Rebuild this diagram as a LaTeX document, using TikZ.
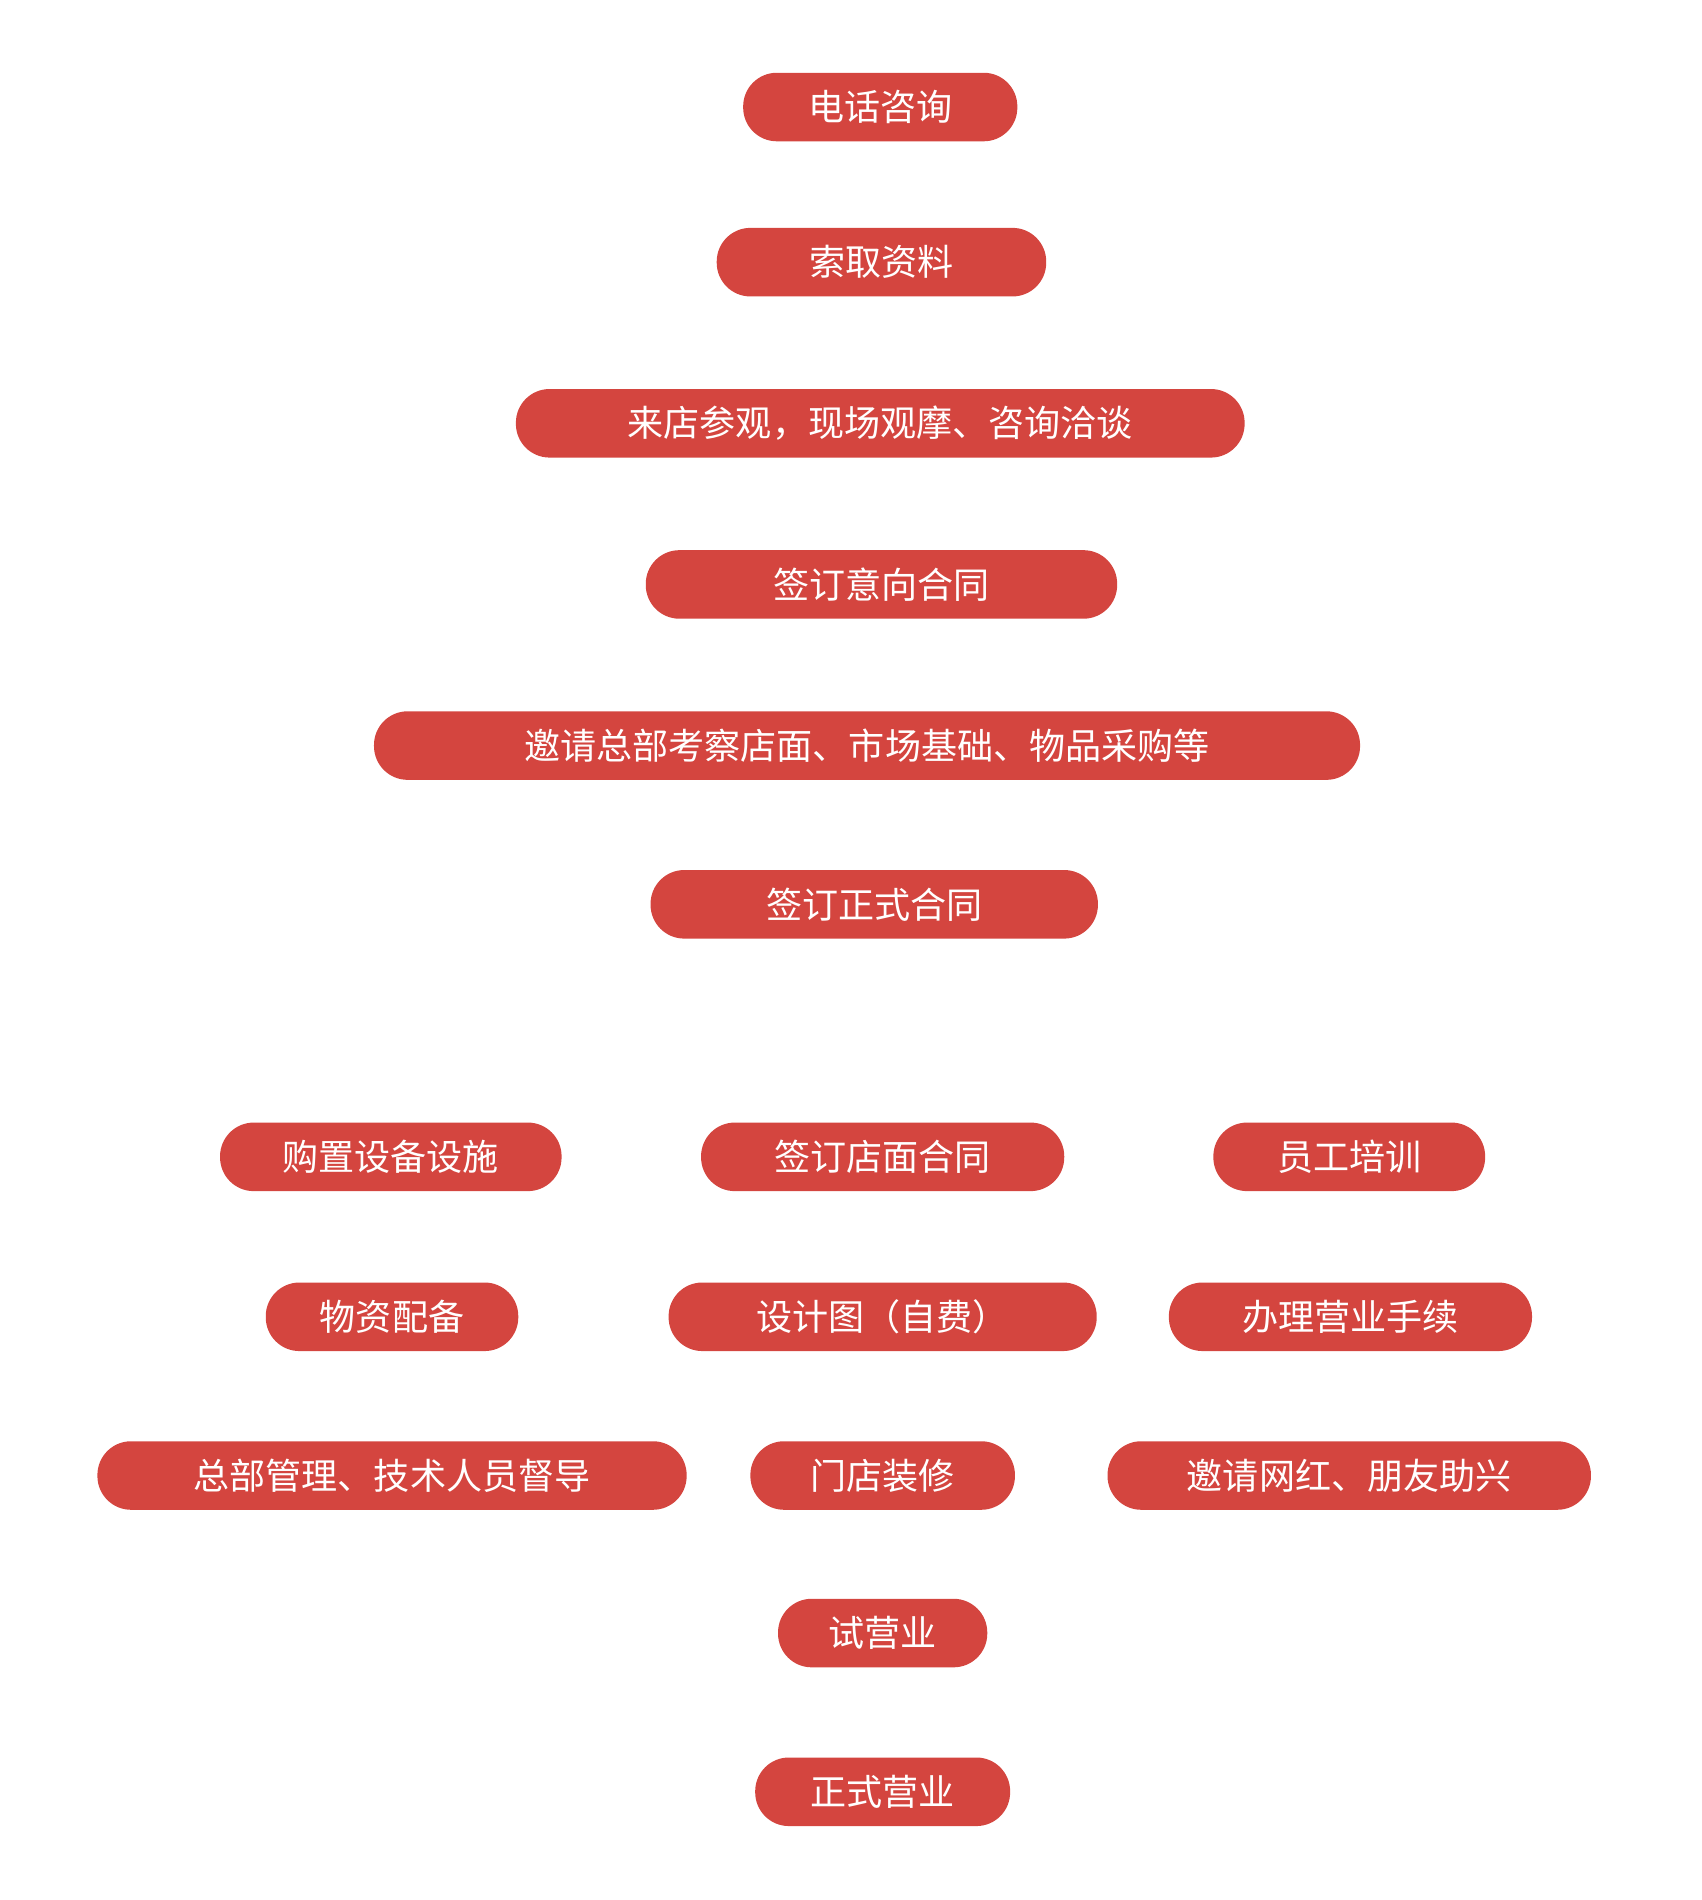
\documentclass[tikz,border=0pt]{standalone}
\usepackage{fontspec}
\newfontfamily\cjk{Noto Sans CJK SC}
\usetikzlibrary{arrows.meta}
\definecolor{rd}{HTML}{D4453F}
\definecolor{br}{HTML}{9C8070}
\tikzset{
 box/.style={fill=rd,rounded corners=14pt,minimum height=28.5pt,inner sep=0pt,text=white,font=\cjk\fontsize{15}{15}\selectfont},
 ln/.style={draw=br,line width=1.6pt},
 ar/.style={ln,-{Triangle[length=9pt,width=9pt]}},
}
\newcommand{\knob}[1]{\fill[br] (#1.north) circle (6.5pt);}
\begin{document}
\begin{tikzpicture}[x=0.5pt,y=-0.5pt]
\useasboundingbox (0,0) rectangle (1415,1580);
% coordinates
\coordinate (p1) at (732,89);
\coordinate (p2) at (733,218);
\coordinate (p3) at (732,352);
\coordinate (p4) at (733,486);
\coordinate (p5) at (721,620);
\coordinate (p6) at (727,752);
\coordinate (bL) at (328,857);
\coordinate (bM) at (732,857);
\coordinate (bR) at (1120,857);
% nodes
\node[box,minimum width=114pt] (n1) at (732,89) {电话咨询};
\node[box,minimum width=137pt] (n2) at (733,218) {索取资料};
\node[box,minimum width=303pt] (n3) at (732,352) {来店参观，现场观摩、咨询洽谈};
\node[box,minimum width=196pt] (n4) at (733,486) {签订意向合同};
\node[box,minimum width=410pt] (n5) at (721,620) {邀请总部考察店面、市场基础、物品采购等};
\node[box,minimum width=186pt] (n6) at (727,752) {签订正式合同};
\node[box,minimum width=142pt] (a1) at (325,962) {购置设备设施};
\node[box,minimum width=151pt] (b1) at (734,962) {签订店面合同};
\node[box,minimum width=113pt] (c1) at (1122,962) {员工培训};
\node[box,minimum width=105pt] (a2) at (326,1095) {物资配备};
\node[box,minimum width=178pt] (b2) at (734,1095) {设计图（自费）};
\node[box,minimum width=151pt] (c2) at (1123,1095) {办理营业手续};
\node[box,minimum width=245pt] (a3) at (326,1227) {总部管理、技术人员督导};
\node[box,minimum width=110pt] (b3) at (734,1227) {门店装修};
\node[box,minimum width=201pt] (c3) at (1122,1227) {邀请网红、朋友助兴};
\node[box,minimum width=87pt] (t1) at (734,1358) {试营业};
\node[box,minimum width=106pt] (t2) at (734,1490) {正式营业};
% connectors behind
\begin{scope}[on background layer/.style={}]
\end{scope}
\end{tikzpicture}
\end{document}
